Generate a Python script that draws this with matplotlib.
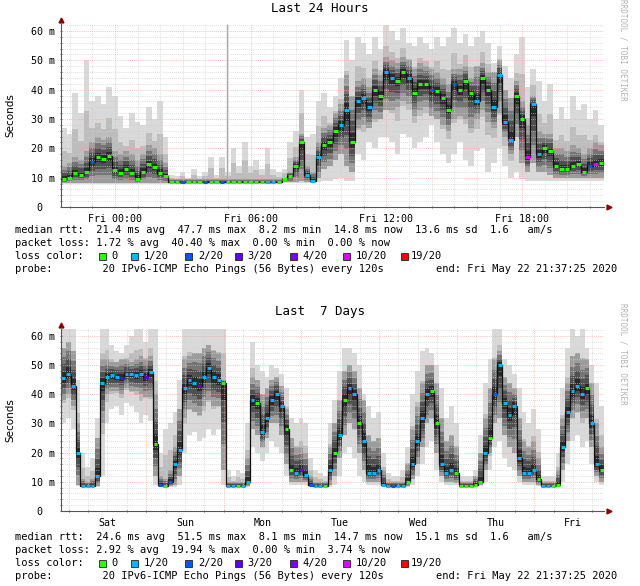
import numpy as np
import matplotlib
matplotlib.use("Agg")
import matplotlib.pyplot as plt
from matplotlib.patches import Rectangle

# ---------------- data: last 24 hours (15 min bins, hours from Thu 21:37) ----------------
day_med = [9.5, 10, 11.5, 11, 12, 15.5, 17, 16.5, 17.5, 12.5, 11.5, 13, 11.5, 9.5, 12, 14.5, 13.5, 11.5, 10.5,
           8.5, 8.6, 8.5, 8.4, 8.5, 8.5, 8.6, 8.5, 8.4, 8.5, 8.5, 8.6, 8.5, 8.5, 8.4, 8.5, 8.6, 8.5, 8.5, 8.4,
           9.5, 10.5, 14, 22, 11, 9, 17, 21, 22, 26, 28, 33, 22, 36, 37, 34, 40, 38, 46, 44, 43, 46, 44, 39,
           42, 42, 40, 39.5, 37, 33, 42, 40, 43, 39, 36, 44, 40, 34, 45, 29, 23, 38, 30, 17, 35, 18, 20, 19,
           14, 13, 13, 14, 14.5, 12, 14, 14.5, 15]
day_lo = [8.0] * 19 + [8.0] * 20 + \
         [8.2, 8.2, 8.2, 8.3, 8.2, 8.2, 8.5, 9, 9, 9.5, 10, 9, 9, 18, 16, 22, 20, 24, 24, 22, 18, 25, 24, 20,
          22, 24, 28, 22, 18, 15, 18, 22, 16, 14, 19, 20, 12, 15, 20, 14, 10, 12, 9.5, 9, 9, 9, 9, 9, 9,
          8.8, 8.8, 8.8, 8.8, 8.8, 8.8, 8.8, 8.8]
day_dlo = [8.3] * 19 + [8.2] * 20 + \
          [8.4, 8.4, 8.5, 9, 8.6, 8.4, 10, 13, 14, 16, 18, 14, 12, 27, 28, 27, 30, 30, 33, 33, 34, 36, 35, 31,
           33, 34, 31, 30, 28, 26, 30, 31, 30, 27, 30, 33, 29, 27, 32, 24, 18, 24, 15, 12, 15, 12, 12, 11, 10,
           10, 10, 10, 10, 10, 10, 10, 10]
day_p1 = [14, 15, 17, 16, 19, 22, 24, 23, 24, 19, 18, 19, 18, 16, 18, 21, 20, 18, 15] + [9.5] * 20 + \
         [10, 12, 17, 25, 14, 12, 22, 27, 28, 32, 35, 45, 38, 43, 44, 41, 47, 45, 51, 50, 49, 51, 50, 47,
          49, 48, 47, 46, 44, 42, 47, 47, 48, 44, 48, 49, 46, 46, 50, 40, 37, 43, 36, 28, 38, 26, 25, 25, 20,
          20, 19, 21, 20, 18, 20, 22, 21]
day_hi = [27, 25, 39, 32, 50, 36, 38, 35, 41, 38, 31, 27, 32, 29, 28, 34, 30, 36, 24,
          11, 10.5, 12, 10, 13, 10.5, 12, 17, 11, 17, 12, 20, 14, 22, 14, 16, 13, 20, 13, 12,
          13, 22, 26, 40, 24, 25, 36, 39, 34, 38, 44, 57, 50, 58, 56, 52, 58, 54, 62, 60, 57, 61, 56, 55,
          58, 56, 54, 58, 55, 58, 61, 56, 59, 55, 58, 60, 56, 49, 55, 48, 44, 52, 58, 41, 47, 43, 36, 42, 30,
          34, 30, 38, 33, 35, 30, 33, 28]
day_loss = "0000020000000000000" + "00200020020000000110" + \
           "0000111000" "1101110011" "0010002000" "2000100111" "100a110000" "00002a0"
day_spike_t = [7.32]
day_spike_top = [62.5]

# ---------------- data: last 7 days (1.5 h bins, hours from Fri 21:37) ----------------
week_med = [45.5, 47, 43, 20, 8.5, 8.5, 8.5, 12, 44, 46,
            46.5, 46, 45.5, 47, 47, 46.5, 47, 46, 47.5, 23,
            9, 8.5, 10, 16, 21, 42, 45, 44, 43, 46,
            49, 46, 45, 44, 8.5, 8.5, 8.5, 8.5, 10, 38,
            37, 27, 32, 38, 40, 36, 28, 14, 13, 14,
            12.5, 9, 8.5, 8.5, 8.5, 14, 20, 26, 38, 42,
            40, 30, 24, 13, 13, 14, 9, 8.5, 8.5, 8.5,
            8.5, 10, 16, 24, 32, 40, 41, 30, 16, 13,
            14, 13, 8.5, 8.5, 8.5, 9, 10, 20, 25, 40,
            50, 37, 33, 36, 18, 13, 13, 14, 11, 8.5,
            8.5, 8.5, 9, 22, 34, 41, 43, 40, 42, 30,
            16, 14]
week_lo = [30, 32, 28, 8.5, 8.2, 8.2, 8.2, 8.2, 12, 30,
           35, 36, 33, 37, 36, 34, 30, 33, 31, 9,
           8.2, 8.2, 8.2, 8.3, 9, 20, 26, 27, 24, 25,
           28, 26, 28, 9, 8.2, 8.2, 8.2, 8.2, 8.3, 22,
           20, 17, 20, 24, 22, 20, 12, 9, 9, 9,
           9, 8.3, 8.2, 8.2, 8.2, 8.3, 9, 12, 20, 22,
           18, 12, 10, 9, 9, 9, 8.5, 8.2, 8.2, 8.2,
           8.2, 8.3, 9, 12, 16, 22, 24, 14, 10, 9,
           9, 9, 8.2, 8.2, 8.2, 8.3, 8.5, 10, 14, 22,
           24, 18, 15, 14, 10, 9, 9, 9, 8.5, 8.2,
           8.2, 8.2, 8.3, 10, 16, 24, 26, 22, 24, 16,
           10, 9]
week_dlo = [38, 40, 36, 9, 8.3, 8.3, 8.3, 8.5, 30, 40,
            41, 41, 40, 42, 41, 41, 40, 39, 39, 12,
            8.4, 8.4, 8.5, 9, 12, 32, 35, 34, 33, 36,
            38, 36, 36, 14, 8.3, 8.3, 8.3, 8.3, 8.6, 28,
            26, 22, 25, 30, 30, 26, 16, 10, 10, 10,
            10, 8.5, 8.3, 8.3, 8.3, 9, 12, 18, 26, 30,
            28, 20, 14, 10, 10, 10, 8.8, 8.3, 8.3, 8.3,
            8.3, 8.5, 11, 16, 22, 30, 32, 20, 12, 10,
            10, 9.5, 8.3, 8.3, 8.3, 8.4, 9, 14, 20, 30,
            32, 26, 22, 20, 12, 10, 10, 10, 9, 8.3,
            8.3, 8.3, 8.5, 14, 24, 32, 34, 32, 32, 22,
            12, 10]
week_p1 = [56, 58, 55, 30, 11, 10, 11, 25, 52, 52,
           51, 51, 52, 52, 51, 52, 53, 52, 53, 40,
           12, 11, 14, 22, 35, 52, 53, 54, 54, 56,
           57, 55, 54, 45, 10, 10, 10, 10, 18, 46,
           45, 40, 42, 45, 46, 43, 35, 25, 22, 22,
           20, 12, 10, 10, 10, 22, 30, 38, 48, 50,
           48, 42, 38, 26, 24, 25, 14, 10, 10, 10,
           10, 16, 28, 36, 44, 50, 50, 44, 32, 24,
           26, 22, 10, 10, 10, 12, 20, 32, 42, 52,
           55, 46, 44, 42, 32, 24, 22, 24, 18, 10,
           10, 10, 14, 32, 44, 53, 54, 52, 52, 44,
           30, 22]
week_hi = [62.5, 62.5, 62.5, 45, 20, 15, 18, 32, 62.5, 62.5,
           57, 55, 54, 57, 60, 62.5, 62.5, 58, 62.5, 62.5,
           20, 28, 30, 34, 45, 62.5, 62.5, 62.5, 62.5, 62.5,
           62.5, 62.5, 62.5, 62.5, 14, 12, 14, 13, 30, 58,
           50, 48, 46, 50, 49, 47, 42, 32, 30, 32,
           30, 18, 14, 13, 12, 30, 38, 48, 56, 56,
           54, 50, 40, 36, 32, 34, 20, 13, 12, 12,
           14, 22, 40, 48, 55, 56, 54, 50, 42, 32,
           36, 30, 12, 12, 12, 14, 26, 44, 52, 62.5,
           62.5, 52, 50, 47, 42, 34, 30, 35, 28, 12,
           12, 12, 20, 42, 56, 62.5, 60, 62.5, 56, 50,
           44, 36]
week_loss = "1111111111" "1131111310" "2021111131" "1110110111" "0111110013" "1211010101" \
            "1011111121" "1011110011" "1000000102" "1111111101" "1001111101" "10"

loss_colors = {"0": "#26ff00", "1": "#00b8ff", "2": "#0059ff", "3": "#5e00ff",
               "4": "#7e00ff", "a": "#dd00ff", "j": "#ff0000"}
loss_keys = ["0", "1", "2", "3", "4", "a", "j"]
loss_names = ["0", "1/20", "2/20", "3/20", "4/20", "10/20", "19/20"]

day_ticks = ["Fri 00:00", "Fri 06:00", "Fri 12:00", "Fri 18:00"]
week_ticks = ["Sat", "Sun", "Mon", "Tue", "Wed", "Thu", "Fri"]
ytick_vals = [0, 10, 20, 30, 40, 50, 60]
ytick_labels = ["0  ", "10 m", "20 m", "30 m", "40 m", "50 m", "60 m"]

day_stats = ["median rtt:  21.4 ms avg  47.7 ms max  8.2 ms min  14.8 ms now  13.6 ms sd  1.6   am/s",
             "packet loss: 1.72 % avg  40.40 % max  0.00 % min  0.00 % now"]
week_stats = ["median rtt:  24.6 ms avg  51.5 ms max  8.1 ms min  14.7 ms now  15.1 ms sd  1.6   am/s",
              "packet loss: 2.92 % avg  19.94 % max  0.00 % min  3.74 % now"]
probe_text = "probe:        20 IPv6-ICMP Echo Pings (56 Bytes) every 120s"
end_text = "end: Fri May 22 21:37:25 2020"

MONO = "DejaVu Sans Mono"
W, H = 640, 586
fig = plt.figure(figsize=(6.4, 5.86), dpi=100)
fig.patch.set_facecolor("white")


def T(x, y, s, **kw):
    kw.setdefault("family", MONO)
    kw.setdefault("fontsize", 7.5)
    kw.setdefault("va", "center")
    fig.text(x / W, 1 - y / H, s, **kw)


def px_axes(left, top, right, bottom):
    return fig.add_axes([left / W, 1 - bottom / H, (right - left) / W, (bottom - top) / H])


def draw_panel(ax, width, med, lo, dlo, p1, hi, loss, span, minor_x, major_x, label_x, labels):
    n = len(med)
    t = np.arange(n) * width
    lo, dlo, p1, hi, med = map(np.asarray, (lo, dlo, p1, hi, med))
    # smoke: light outer range, then darker shades closing in on the median
    ax.bar(t, hi - lo, bottom=lo, width=width, align="edge", color="#d9d9d9", lw=0, zorder=1)
    a, b = med - 0.55 * (med - lo), med + 0.55 * (hi - med)
    ax.bar(t, b - a, bottom=a, width=width, align="edge", color="#bdbdbd", lw=0, zorder=1.05)
    for f, c in [(1.0, "#9c9c9c"), (0.7, "#757575"), (0.45, "#505050"), (0.2, "#2a2a2a")]:
        a, b = med - f * (med - dlo), med + f * (p1 - med)
        ax.bar(t, b - a, bottom=a, width=width, align="edge", color=c, lw=0, zorder=1.1 + (1 - f) / 10)
    ax.step(np.append(t, span), np.append(med, med[-1]), where="post", color="#111111", lw=0.9, zorder=3)
    for i in range(n):
        ax.hlines(med[i], t[i] + 0.1 * width, t[i] + 0.9 * width, color=loss_colors[loss[i]], lw=2.2, zorder=4)

    # grid (rrdtool style, dotted)
    for v in np.arange(2, 63, 2):
        c = "#f0a8a8" if v % 10 == 0 else "#cfcfcf"
        ax.axhline(v, color=c, lw=0.55, ls=(0, (1, 1.5)), zorder=2)
    for v in minor_x:
        ax.axvline(v, color="#cfcfcf", lw=0.55, ls=(0, (1, 1.5)), zorder=2)
    for v in major_x:
        ax.axvline(v, color="#f0a8a8", lw=0.55, ls=(0, (1, 1.5)), zorder=2)

    ax.set_xlim(0, span)
    ax.set_ylim(0, 62.5)
    ax.set_facecolor("white")
    for s in ("top", "right"):
        ax.spines[s].set_visible(False)
    for s in ("left", "bottom"):
        ax.spines[s].set_color("#555555")
        ax.spines[s].set_linewidth(0.8)
    ax.set_xticks(label_x)
    ax.set_xticklabels(labels, family=MONO, fontsize=7.2)
    ax.set_xticks(list(minor_x) + list(major_x), minor=True)
    ax.set_yticks(ytick_vals)
    ax.set_yticklabels(ytick_labels, family=MONO, fontsize=7.2)
    ax.set_yticks(np.arange(2, 62, 2), minor=True)
    ax.tick_params(which="both", length=2, width=0.6, color="#555555", direction="inout", pad=3)
    ax.tick_params(axis="x", which="major", length=0, pad=5)
    ax.plot([0], [1.02], marker="^", ms=3.5, color="#8b0000", transform=ax.transAxes, clip_on=False)
    ax.plot([1.009], [0], marker=">", ms=3.5, color="#8b0000", transform=ax.transAxes, clip_on=False)


def draw_legend(y0, stats):
    T(15, y0, stats[0])
    T(15, y0 + 13, stats[1])
    T(15, y0 + 26, "loss color:")
    sq_cols = [13.3, 18.5, 27, 35, 43.8, 52.3, 61.4]
    lab_cols = [15.3, 20.5, 29.2, 37, 45.8, 54.2, 63]
    cw = 6.28
    for k, name, sc, lc in zip(loss_keys, loss_names, sq_cols, lab_cols):
        x = 15 + sc * cw
        fig.patches.append(Rectangle((x / W, 1 - (y0 + 26 + 3.5) / H), 7 / W, 7 / H,
                                     transform=fig.transFigure, facecolor=loss_colors[k],
                                     edgecolor="#222222", lw=0.6))
        T(15 + lc * cw, y0 + 26, name)
    T(15, y0 + 39, probe_text)
    T(617, y0 + 39, end_text, ha="right")


# top panel: last 24 hours
off = 24 - (21 + 37 / 60)
ax1 = px_axes(61, 207 - 62.5 * 2.933, 604, 207)
d_minor = [off + j for j in range(-2, 22) if j % 6 != 0]
d_major = [off + j for j in range(0, 22, 6)]
draw_panel(ax1, 0.25, day_med, day_lo, day_dlo, day_p1, day_hi, day_loss, 24,
           d_minor, d_major, d_major, day_ticks)
ax1.vlines(day_spike_t, 8.5, day_spike_top, color="#a8a8a8", lw=1.0, zorder=1.1)

# bottom panel: last 7 days
off7 = 24 - (21 + 37 / 60)
ax2 = px_axes(61, 511 - 62.5 * 2.917, 604, 511)
w_major = [off7 + 24 * j for j in range(7)]
w_minor = [off7 + 6 * j for j in range(0, 28) if j % 4 != 0 and off7 + 6 * j < 168]
w_labels = [off7 + 12 + 24 * j for j in range(7)]
draw_panel(ax2, 1.5, week_med, week_lo, week_dlo, week_p1, week_hi, week_loss, 168,
           w_minor, w_major, w_labels, week_ticks)

# titles, labels, legend
T(320, 8, "Last 24 Hours", ha="center", fontsize=9)
T(320, 312, "Last  7 Days", ha="center", fontsize=9)
T(10, 115, "Seconds", rotation=90, ha="center", family="DejaVu Sans", fontsize=7.5)
T(10, 420, "Seconds", rotation=90, ha="center", family="DejaVu Sans", fontsize=7.5)
T(623, 50, "RRDTOOL / TOBI OETIKER", rotation=270, ha="center", fontsize=5.5, color="#b4b4b4")
T(623, 354, "RRDTOOL / TOBI OETIKER", rotation=270, ha="center", fontsize=5.5, color="#b4b4b4")
draw_legend(230, day_stats)
draw_legend(537, week_stats)

fig.savefig("out.png", dpi=100)
